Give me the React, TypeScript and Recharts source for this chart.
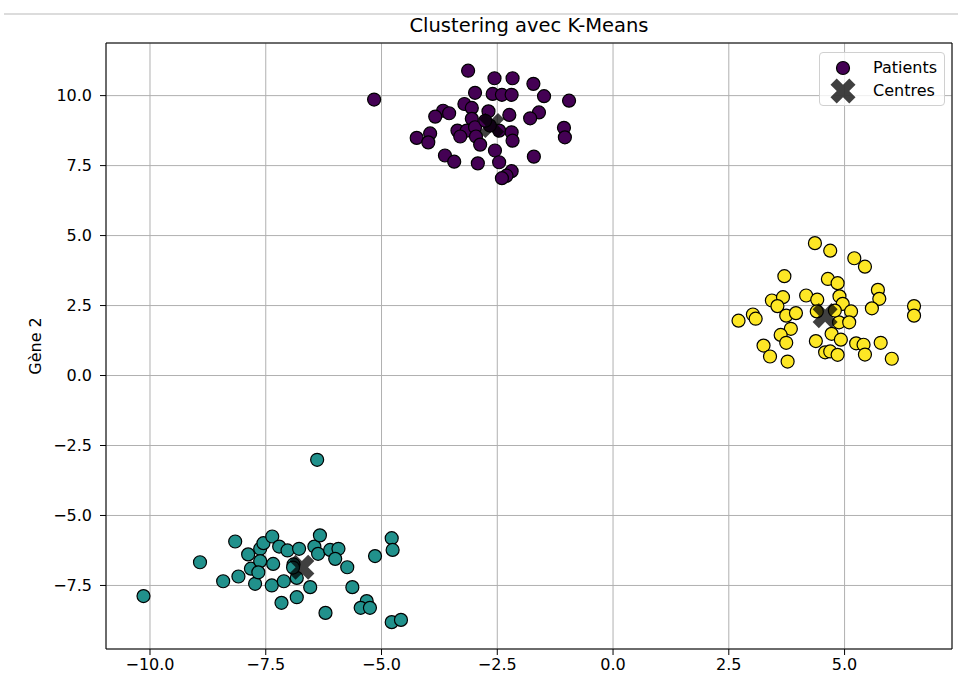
import React from 'react';
import { ScatterChart, Scatter, XAxis, YAxis, CartesianGrid, ReferenceLine, Legend } from 'recharts';

// Cluster 0 (purple)
const clusterPurple: [number, number][] = [
  [-3.13, 10.89], [-5.16, 9.86], [-2.56, 10.62], [-2.17, 10.62], [-1.72, 10.42],
  [-2.98, 10.10], [-2.60, 10.06], [-2.40, 10.03], [-2.19, 10.03], [-1.49, 9.98],
  [-0.95, 9.82], [-3.21, 9.70], [-3.05, 9.56], [-2.69, 9.44], [-2.24, 9.31],
  [-1.60, 9.40], [-1.79, 9.19], [-3.67, 9.46], [-3.54, 9.37], [-3.84, 9.25],
  [-3.05, 9.17], [-3.36, 8.75], [-3.16, 8.75], [-2.98, 8.87], [-3.95, 8.65],
  [-4.24, 8.49], [-3.99, 8.33], [-3.30, 8.54], [-2.96, 8.54], [-2.87, 8.25],
  [-2.46, 8.75], [-2.19, 8.69], [-2.17, 8.39], [-1.06, 8.85], [-1.04, 8.51],
  [-2.55, 8.04], [-3.63, 7.86], [-3.43, 7.64], [-2.92, 7.58], [-2.46, 7.62],
  [-1.71, 7.82], [-2.19, 7.30], [-2.30, 7.14], [-2.40, 7.05], [-2.66, 8.93],
  [-2.76, 9.10],
];

// Cluster 1 (teal)
const clusterTeal: [number, number][] = [
  [-6.39, -3.01], [-10.14, -7.88], [-8.92, -6.67], [-8.16, -5.93], [-8.42, -7.35],
  [-8.09, -7.18], [-7.88, -6.39], [-7.82, -6.90], [-7.73, -7.44], [-7.62, -6.19],
  [-7.62, -6.63], [-7.66, -7.03], [-7.55, -5.99], [-7.36, -5.75], [-7.21, -6.11],
  [-7.03, -6.25], [-7.34, -6.73], [-7.37, -7.50], [-7.11, -7.35], [-7.16, -8.12],
  [-6.83, -7.92], [-6.78, -6.19], [-6.90, -6.75], [-6.83, -7.23], [-6.54, -7.56],
  [-6.45, -6.11], [-6.33, -5.71], [-6.37, -6.37], [-6.11, -6.23], [-5.93, -6.19],
  [-6.00, -6.55], [-5.74, -6.85], [-6.21, -8.48], [-5.63, -7.56], [-5.32, -8.06],
  [-5.45, -8.30], [-5.25, -8.30], [-5.14, -6.45], [-4.78, -5.81], [-4.76, -6.23],
  [-4.78, -8.81], [-4.58, -8.73], [-6.91, -6.86],
];

// Cluster 2 (yellow)
const clusterYellow: [number, number][] = [
  [4.36, 4.73], [4.69, 4.46], [5.21, 4.19], [5.44, 3.89], [3.70, 3.55],
  [4.64, 3.45], [4.85, 3.30], [5.72, 3.06], [5.75, 2.74], [5.59, 2.40],
  [6.50, 2.48], [6.50, 2.14], [3.43, 2.68], [3.67, 2.80], [3.55, 2.48],
  [4.17, 2.86], [4.41, 2.71], [4.89, 2.83], [4.96, 2.56], [2.71, 1.96],
  [3.02, 2.18], [3.08, 2.03], [3.74, 2.14], [3.95, 2.23], [5.14, 2.29],
  [4.88, 1.90], [5.10, 1.90], [3.84, 1.67], [3.62, 1.45], [3.74, 1.17],
  [4.72, 1.49], [4.38, 1.23], [4.92, 1.28], [5.25, 1.15], [5.41, 1.10],
  [5.78, 1.17], [3.25, 1.07], [3.39, 0.68], [3.77, 0.50], [4.58, 0.83],
  [4.69, 0.86], [4.85, 0.74], [5.44, 0.75], [6.02, 0.60], [4.40, 2.29],
  [4.79, 2.32],
];

const centres: [number, number][] = [
  [-2.62, 8.93],
  [-6.72, -6.85],
  [4.58, 2.14],
];

const xTicks = [-10, -7.5, -5, -2.5, 0, 2.5, 5];
const yTicks = [-7.5, -5, -2.5, 0, 2.5, 5, 7.5, 10];
const xDomain: [number, number] = [-10.95, 7.32];
const yDomain: [number, number] = [-9.77, 11.88];

const title = 'Clustering avec K-Means';
const yLabel = 'Gène 2';
const legendLabels = ['Patients', 'Centres'];

const PURPLE = '#440154';
const TEAL = '#21918c';
const YELLOW = '#fde725';
const FONT = 'DejaVu Sans, sans-serif';

const toPts = (arr: [number, number][]) => arr.map(([x, y]) => ({ x, y }));

const fmt = (v: number) => (v < 0 ? '\u2212' : '') + Math.abs(v).toFixed(1);

const xPath = (cx: number, cy: number, L: number, T: number) => {
  const pts: [number, number][] = [
    [T, T], [L, T], [L, -T], [T, -T], [T, -L], [-T, -L],
    [-T, -T], [-L, -T], [-L, T], [-T, T], [-T, L], [T, L],
  ];
  const c = Math.SQRT1_2;
  return (
    pts
      .map(([u, v], i) => {
        const px = cx + (u - v) * c;
        const py = cy + (u + v) * c;
        return (i === 0 ? 'M' : 'L') + px.toFixed(2) + ',' + py.toFixed(2);
      })
      .join(' ') + ' Z'
  );
};

const dot = (color: string) => (props: any) => {
  const { cx, cy } = props;
  if (cx == null || cy == null) return <g />;
  return <circle cx={cx} cy={cy} r={6.5} fill={color} stroke="#000" strokeWidth={1.2} />;
};

const cross = (props: any) => {
  const { cx, cy } = props;
  if (cx == null || cy == null) return <g />;
  return <path d={xPath(cx, cy, 13.3, 4.4)} fill="#000" fillOpacity={0.75} />;
};

const renderLegend = () => (
  <div
    style={{
      width: 124,
      height: 52,
      border: '1px solid #d0d0d0',
      borderRadius: 4,
      background: 'rgba(255,255,255,0.8)',
      fontFamily: FONT,
      fontSize: 16,
      color: '#000',
      position: 'relative',
      boxSizing: 'content-box',
    }}
  >
    <svg width={40} height={52} style={{ position: 'absolute', left: 0, top: 0 }}>
      <circle cx={23} cy={15} r={6.5} fill={PURPLE} stroke="#000" strokeWidth={1.2} />
      <path d={xPath(23, 38, 13.3, 4.4)} fill="#000" fillOpacity={0.75} />
    </svg>
    <div style={{ position: 'absolute', left: 53, top: 5, lineHeight: '20px' }}>{legendLabels[0]}</div>
    <div style={{ position: 'absolute', left: 53, top: 28, lineHeight: '20px' }}>{legendLabels[1]}</div>
  </div>
);

export default function App() {
  return (
    <div style={{ position: 'absolute', left: 0, top: 0, width: 958, height: 675, background: '#fff' }}>
      <div style={{ position: 'absolute', left: 4, top: 13, width: 954, height: 2, background: '#dcdcdc' }} />
      <div
        style={{
          position: 'absolute',
          left: 106,
          width: 846,
          top: 15,
          lineHeight: '22px',
          textAlign: 'center',
          fontFamily: FONT,
          fontSize: 19.5,
          color: '#000',
        }}
      >
        {title}
      </div>
      <ScatterChart width={958} height={675} margin={{ top: 43, right: 6, bottom: 0, left: 0 }}>
        <CartesianGrid stroke="#b0b0b0" strokeWidth={1} />
        <XAxis
          type="number"
          dataKey="x"
          domain={xDomain}
          ticks={xTicks}
          allowDataOverflow
          interval={0}
          height={26}
          tickFormatter={fmt}
          tickSize={6}
          tickMargin={4}
          stroke="#000"
          tick={{ fill: '#000', fontSize: 16, fontFamily: FONT }}
        />
        <YAxis
          type="number"
          dataKey="y"
          domain={yDomain}
          ticks={yTicks}
          allowDataOverflow
          interval={0}
          width={106}
          tickFormatter={fmt}
          tickSize={6}
          tickMargin={8}
          stroke="#000"
          tick={{ fill: '#000', fontSize: 16, fontFamily: FONT }}
          label={{
            content: () => (
              <text
                x={35}
                y={346}
                transform="rotate(-90 35 346)"
                textAnchor="middle"
                dominantBaseline="central"
                fontSize={16}
                fontFamily={FONT}
                fill="#000"
              >
                {yLabel}
              </text>
            ),
          }}
        />
        <ReferenceLine y={yDomain[1]} stroke="#000" strokeWidth={1} />
        <ReferenceLine x={xDomain[1]} stroke="#000" strokeWidth={1} />
        <Scatter name={legendLabels[0]} data={toPts(clusterPurple)} shape={dot(PURPLE)} isAnimationActive={false} />
        <Scatter data={toPts(clusterTeal)} shape={dot(TEAL)} isAnimationActive={false} legendType="none" />
        <Scatter data={toPts(clusterYellow)} shape={dot(YELLOW)} isAnimationActive={false} legendType="none" />
        <Scatter name={legendLabels[1]} data={toPts(centres)} shape={cross} isAnimationActive={false} />
        <Legend
          layout="vertical"
          align="center"
          verticalAlign="middle"
          content={renderLegend}
          wrapperStyle={{ position: 'absolute', top: 52, left: 819, width: 126, height: 54 }}
        />
      </ScatterChart>
    </div>
  );
}
